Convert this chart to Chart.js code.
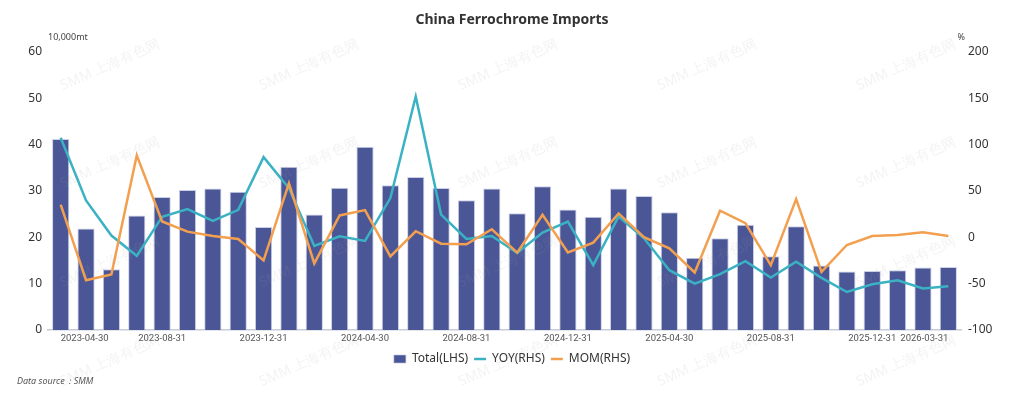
<!DOCTYPE html>
<html>
<head>
<meta charset="utf-8">
<script src="https://cdn.jsdelivr.net/npm/chart.js@4"></script>
<style>
  html, body { margin: 0; padding: 0; background: #fff; }
  #wrap { width: 1024px; height: 399px; }
</style>
</head>
<body>
<div id="wrap"><canvas id="myChart" width="1024" height="399"></canvas></div>
<script>
const months = [
    '2023-04-30', '2023-05-31', '2023-06-30', '2023-07-31', '2023-08-31', '2023-09-30',
    '2023-10-31', '2023-11-30', '2023-12-31', '2024-01-31', '2024-02-29', '2024-03-31',
    '2024-04-30', '2024-05-31', '2024-06-30', '2024-07-31', '2024-08-31', '2024-09-30',
    '2024-10-31', '2024-11-30', '2024-12-31', '2025-01-31', '2025-02-28', '2025-03-31',
    '2025-04-30', '2025-05-31', '2025-06-30', '2025-07-31', '2025-08-31', '2025-09-30',
    '2025-10-31', '2025-11-30', '2025-12-31', '2026-01-31', '2026-02-28', '2026-03-31'
];

// 10,000mt
const total = [
    41.2, 21.9, 13.1, 24.7, 28.7, 30.2, 30.5, 29.8, 22.2, 35.2, 24.9, 30.7,
    39.5, 31.2, 33.0, 30.6, 28.0, 30.5, 25.2, 31.0, 26.0, 24.4, 30.5, 28.9,
    25.4, 15.6, 19.8, 22.7, 15.9, 22.4, 13.9, 12.6, 12.7, 12.9, 13.5, 13.6
];

// %
const yoy = [
    107.4, 39.8, 1.8, -20.0, 22.0, 30.4, 17.7, 29.6, 86.4, 53.0, -9.4, 1.0,
    -4.0, 42.3, 151.9, 24.5, -1.8, 1.4, -17.0, 5.0, 17.0, -30.0, 22.4, -1.1,
    -35.5, -50.0, -39.8, -25.7, -43.4, -26.4, -43.8, -59.0, -50.6, -46.3, -55.3, -52.8
];

const mom = [
    35.1, -46.3, -40.1, 88.3, 17.0, 6.1, 1.4, -1.8, -25.0, 58.2, -28.2, 23.5,
    29.3, -20.6, 6.5, -6.9, -7.6, 8.6, -16.6, 24.2, -16.3, -5.8, 25.7, 0.0,
    -12.0, -38.0, 28.6, 15.2, -30.0, 41.2, -37.3, -8.3, 1.4, 2.5, 5.4, 1.4
];

const leftTicks = [0, 10, 20, 30, 40, 50, 60];
const rightTicks = [-100, -50, 0, 50, 100, 150, 200];
const shownLabels = [0, 4, 8, 12, 16, 20, 24, 28, 32, 35];

const barColor = 'rgb(75, 86, 150)';
const yoyColor = 'rgb(58, 178, 196)';
const momColor = 'rgb(242, 160, 80)';
const fontName = '"Noto Sans", "Open Sans", sans-serif';

// unit labels, source note and watermark
const extras = {
    id: 'extras',
    afterDraw(chart) {
        const ctx = chart.ctx;
        const area = chart.chartArea;
        ctx.save();
        ctx.font = '9px ' + fontName;
        ctx.fillStyle = '#444';
        ctx.textBaseline = 'middle';
        ctx.textAlign = 'left';
        ctx.fillText('10,000mt', area.left, 37);
        ctx.textAlign = 'right';
        ctx.fillText('%', area.right + 4, 37);

        ctx.textAlign = 'left';
        ctx.fillStyle = '#555';
        ctx.font = 'italic 9px ' + fontName;
        ctx.fillText('Data source：SMM', 17, 381);

        ctx.font = '14px ' + fontName;
        ctx.fillStyle = 'rgba(160, 160, 160, 0.13)';
        ctx.textAlign = 'center';
        const cols = [110, 309, 508, 707, 906];
        const rows = [65, 163, 262, 361];
        rows.forEach(function (y) {
            cols.forEach(function (x) {
                ctx.save();
                ctx.translate(x, y);
                ctx.rotate(-24 * Math.PI / 180);
                ctx.fillText('SMM 上海有色网', 0, 0);
                ctx.restore();
            });
        });
        ctx.restore();
    }
};

const ctx = document.getElementById('myChart').getContext('2d');
const myChart = new Chart(ctx, {
    data: {
        labels: months,
        datasets: [
            {
                type: 'line',
                label: 'YOY(RHS)',
                data: yoy,
                yAxisID: 'y1',
                borderColor: yoyColor,
                backgroundColor: yoyColor,
                borderWidth: 2.5,
                pointRadius: 0,
                pointStyle: 'line',
                tension: 0,
                order: 1
            },
            {
                type: 'line',
                label: 'MOM(RHS)',
                data: mom,
                yAxisID: 'y1',
                borderColor: momColor,
                backgroundColor: momColor,
                borderWidth: 2.5,
                pointRadius: 0,
                pointStyle: 'line',
                tension: 0,
                order: 0
            },
            {
                type: 'bar',
                label: 'Total(LHS)',
                data: total,
                yAxisID: 'y',
                backgroundColor: barColor,
                borderColor: 'rgba(190, 196, 225, 0.8)',
                borderWidth: { top: 1, left: 1, right: 1, bottom: 0 },
                barPercentage: 0.68,
                categoryPercentage: 1,
                pointStyle: 'rect',
                order: 2
            }
        ]
    },
    plugins: [extras],
    options: {
        responsive: false,
        animation: false,
        layout: {
            padding: { left: 0, right: 0, top: 0, bottom: 24 }
        },
        scales: {
            x: {
                grid: { display: false, drawTicks: false },
                border: { color: '#c8ccd8', width: 1.5 },
                ticks: {
                    autoSkip: false,
                    maxRotation: 0,
                    minRotation: 0,
                    align: 'inner',
                    padding: 3,
                    color: '#555',
                    font: { family: 'Roboto, sans-serif', size: 9.5 },
                    callback: function (value, index) {
                        return shownLabels.includes(index) ? months[index] : '';
                    }
                },
                afterFit: function (scale) { scale.height = 17; }
            },
            y: {
                position: 'left',
                min: 0,
                max: 60,
                grid: { display: false, drawTicks: false },
                border: { display: false },
                afterBuildTicks: function (scale) {
                    scale.ticks = leftTicks.map(function (v) { return { value: v }; });
                },
                ticks: {
                    padding: 6,
                    color: '#333',
                    font: { family: fontName, size: 12 }
                },
                afterFit: function (scale) { scale.width = 48; }
            },
            y1: {
                position: 'right',
                min: -100,
                max: 200,
                grid: { display: false, drawTicks: false },
                border: { display: false },
                afterBuildTicks: function (scale) {
                    scale.ticks = rightTicks.map(function (v) { return { value: v }; });
                },
                ticks: {
                    padding: 7,
                    color: '#333',
                    font: { family: fontName, size: 12 }
                },
                afterFit: function (scale) { scale.width = 63; }
            }
        },
        plugins: {
            title: {
                display: true,
                text: 'China Ferrochrome Imports',
                color: '#333',
                font: { family: fontName, size: 14, weight: 'bold' },
                padding: { top: 12, bottom: 23 }
            },
            legend: {
                position: 'bottom',
                labels: {
                    usePointStyle: true,
                    pointStyleWidth: 12,
                    boxHeight: 8,
                    padding: 6,
                    color: '#333',
                    font: { family: fontName, size: 12 },
                    sort: function (a, b) {
                        const rank = { 'Total(LHS)': 0, 'YOY(RHS)': 1, 'MOM(RHS)': 2 };
                        return rank[a.text] - rank[b.text];
                    }
                }
            },
            tooltip: { enabled: false }
        }
    }
});
</script>
</body>
</html>
